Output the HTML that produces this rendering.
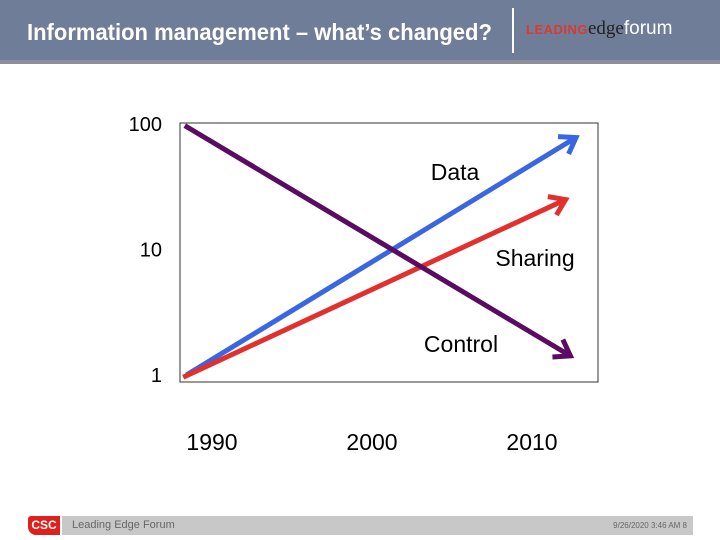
<!DOCTYPE html>
<html><head><meta charset="utf-8"><style>
body{margin:0;width:720px;height:540px;background:#fff;font-family:"Liberation Sans",Arial,sans-serif;overflow:hidden;position:relative}
.hdr{position:absolute;left:0;top:0;width:720px;height:60px;background:#6f7d98}
.hdr2{position:absolute;left:0;top:60px;width:720px;height:4px;background:#8a8f99}
.title{position:absolute;left:27px;top:19px;font-size:22px;color:#fff;font-weight:bold;transform:scaleY(1.05);transform-origin:left top}
.sep{position:absolute;left:512px;top:8px;width:2px;height:45px;background:#fff}
.logo{position:absolute;left:526px;top:18px;font-size:19px;color:#fff}
.foot{position:absolute;left:62px;top:516px;width:631px;height:19px;background:#c8c8c8}
.csc{position:absolute;left:28px;top:516px;width:32px;height:19px;background:#e0201c;color:#fff;font-weight:bold;font-size:12px;line-height:19px;text-align:center;border-radius:3px 0 0 8px}
</style></head><body>
<div class="hdr"></div>
<div class="hdr2"></div>
<div class="title">Information management – what’s changed?</div>
<div class="sep"></div>
<div class="logo"><span style="color:#d93a2e;font-size:13px;font-weight:bold;letter-spacing:0.5px">LEADING</span><span style="font-family:'Liberation Serif',serif;color:#222">edge</span><span style="color:#fff">forum</span></div>
<svg id="chart" width="720" height="540" style="position:absolute;left:0;top:0"></svg>
<div class="csc">CSC</div>
<div class="foot">
<span style="position:absolute;left:10px;top:3px;font-size:11px;color:#666">Leading Edge Forum</span>
<span style="position:absolute;right:6px;top:5px;font-size:8px;color:#666">9/26/2020 3:46 AM 8</span>
</div>
<script>
const yTicks=[1,10,100];
const xTicks=[1990,2000,2010];
const seriesNames=["Data","Sharing","Control"];
const startYears=[1988.4,1988.2,1988.3];
const endYears=[2012.75,2012.1,2012.4];
const startValues=[1,0.96,97];
const endValues=[78,25,1.42];
const colors=["#3b66e2","#e2302f","#5a0b62"];
const labelPos=[[455,180],[535,266],[461,352]];
const svg=document.getElementById('chart');
const NS="http://www.w3.org/2000/svg";
const xs=y=>212+(y-1990)*16;
const ys=v=>375-Math.log10(v)*125.5;
function mk(t,a){const e=document.createElementNS(NS,t);for(const k in a)e.setAttribute(k,a[k]);svg.appendChild(e);return e;}
const box=mk('rect',{x:180,y:123,width:418,height:259,fill:'none',stroke:'#333','stroke-width':1});


yTicks.forEach(v=>{const t=mk('text',{x:162,y:ys(v)+7,'text-anchor':'end','font-size':20,fill:'#000'});t.textContent=v;

});
xTicks.forEach(v=>{const t=mk('text',{x:xs(v),y:450,'text-anchor':'middle','font-size':23,fill:'#000'});t.textContent=v;

});
seriesNames.forEach((n,i)=>{
 const x1=xs(startYears[i]),y1=ys(startValues[i]),x2=xs(endYears[i]),y2=ys(endValues[i]);
 const g=document.createElementNS(NS,'g');svg.appendChild(g);
 
 
 const a=Math.atan2(y2-y1,x2-x1),L=18,s=0.6;
 const p=document.createElementNS(NS,'path');
 p.setAttribute('d',`M${x1},${y1}L${x2},${y2}M${x2-L*Math.cos(a-s)},${y2-L*Math.sin(a-s)}L${x2},${y2}L${x2-L*Math.cos(a+s)},${y2-L*Math.sin(a+s)}`);
 p.setAttribute('stroke',colors[i]);p.setAttribute('stroke-width',5);p.setAttribute('fill','none');p.setAttribute('stroke-linejoin','miter');
 g.appendChild(p);
 const t=mk('text',{x:labelPos[i][0],y:labelPos[i][1],'text-anchor':'middle','font-size':23,fill:'#000'});t.textContent=n;
 
 
});
</script>
</body></html>
